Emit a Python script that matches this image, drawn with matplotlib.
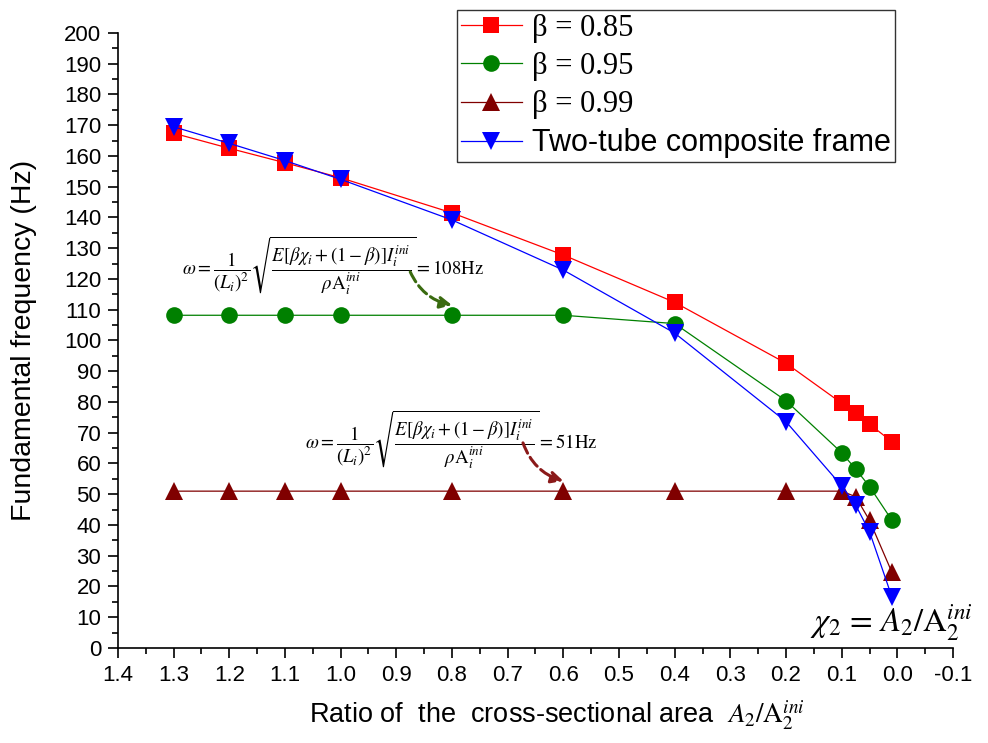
import matplotlib
matplotlib.use("Agg")
import matplotlib.pyplot as plt
from matplotlib.ticker import MultipleLocator, FormatStrFormatter

plt.rcParams['font.family'] = ['Liberation Sans', 'DejaVu Sans']
plt.rcParams['mathtext.fontset'] = 'stix'

# ---- data ----
x_vals = [1.3, 1.2, 1.1, 1.0, 0.8, 0.6, 0.4, 0.2, 0.1, 0.075, 0.05, 0.01]
beta085 = [167.4, 162.5, 157.8, 152.9, 141.5, 127.8, 112.4, 92.6, 79.6, 76.3, 72.8, 67.1]
beta095 = [108.2, 108.2, 108.2, 108.2, 108.2, 108.2, 105.5, 80.4, 63.5, 58.2, 52.5, 41.6]
beta099 = [51.0, 51.0, 51.0, 51.0, 51.0, 51.0, 51.0, 51.0, 51.0, 49.2, 41.5, 24.7]
two_tube = [169.5, 164.1, 158.5, 152.4, 139.2, 122.9, 102.4, 73.6, 52.7, 46.5, 37.8, 16.7]
labels = ['β = 0.85', 'β = 0.95', 'β = 0.99', 'Two-tube composite frame']
colors = ['#FF0000', '#008000', '#800000', '#0000FF']
markers = ['s', 'o', '^', 'v']
msizes = [12, 12, 13, 13]

fig = plt.figure(figsize=(9.88, 7.43), dpi=100)
ax = fig.add_axes([0.1194, 0.1279, 0.8452, 0.8277])

series = [beta085, beta095, beta099, two_tube]
handles = []
for ys, c, m, ms, lab in zip(series, colors, markers, msizes, labels):
    h, = ax.plot(x_vals, ys, color=c, marker=m, markersize=ms, linewidth=0.9,
                 markeredgewidth=0, label=lab, clip_on=False, zorder=3)
    handles.append(h)

ax.set_xlim(1.4, -0.1)
ax.set_ylim(0, 200)
ax.xaxis.set_major_locator(MultipleLocator(0.1))
ax.xaxis.set_minor_locator(MultipleLocator(0.05))
ax.xaxis.set_major_formatter(FormatStrFormatter('%.1f'))
ax.yaxis.set_major_locator(MultipleLocator(10))
ax.yaxis.set_minor_locator(MultipleLocator(5))
ax.spines['top'].set_visible(False)
ax.spines['right'].set_visible(False)
for s in ['left', 'bottom']:
    ax.spines[s].set_linewidth(1.2)
ax.tick_params(which='major', direction='out', length=7, width=1.2, labelsize=16, pad=5)
ax.tick_params(which='minor', direction='out', length=4, width=1.2)

ax.set_ylabel('Fundamental frequency (Hz)', fontsize=20.5)
ax.yaxis.set_label_coords(-0.097, 0.5)
ax.set_xlabel(r'Ratio of  the  cross-sectional area  $A_2/\mathrm{A}_2^{ini}$', fontsize=19.5)
ax.xaxis.set_label_coords(0.525, -0.082)

formula1 = r'$\omega=\dfrac{1}{(L_i)^2}\sqrt{\dfrac{E[\beta\chi_i+(1-\beta)]I_i^{ini}}{\rho\mathrm{A}_i^{ini}}}=108\mathrm{Hz}$'
formula2 = r'$\omega=\dfrac{1}{(L_i)^2}\sqrt{\dfrac{E[\beta\chi_i+(1-\beta)]I_i^{ini}}{\rho\mathrm{A}_i^{ini}}}=51\mathrm{Hz}$'
ax.text(1.285, 124.2, formula1, fontsize=13.5, ha='left', va='center')
ax.text(1.064, 67.6, formula2, fontsize=13.5, ha='left', va='center')

ax.annotate('', xy=(0.80, 111.5), xytext=(0.875, 122.3),
            arrowprops=dict(arrowstyle='-|>,head_length=0.7,head_width=0.35', linestyle='--',
                            linewidth=2.2, color='#3a6b10',
                            connectionstyle='arc3,rad=0.25', shrinkA=0, shrinkB=0))
ax.annotate('', xy=(0.60, 54.3), xytext=(0.6725, 66.7),
            arrowprops=dict(arrowstyle='-|>,head_length=0.7,head_width=0.35', linestyle='--',
                            linewidth=2.2, color='#8b1a1a',
                            connectionstyle='arc3,rad=0.25', shrinkA=0, shrinkB=0))

ax.text(1.024, 0.0265, r'$\chi_2\,=\,A_2/\mathrm{A}_2^{ini}$', transform=ax.transAxes,
        fontsize=23.5, ha='right', va='baseline')

leg = ax.legend(handles=handles, loc='upper right', bbox_to_anchor=(0.9305, 1.037),
                fontsize=22, frameon=True, fancybox=False, edgecolor='black',
                handlelength=2.0, handletextpad=0.35, labelspacing=0.3, borderpad=0.12,
                borderaxespad=0)
leg.get_frame().set_linewidth(1.0)
for t in leg.get_texts()[:3]:
    t.set_fontfamily('Liberation Serif')

fig.savefig('out.png', dpi=100)
